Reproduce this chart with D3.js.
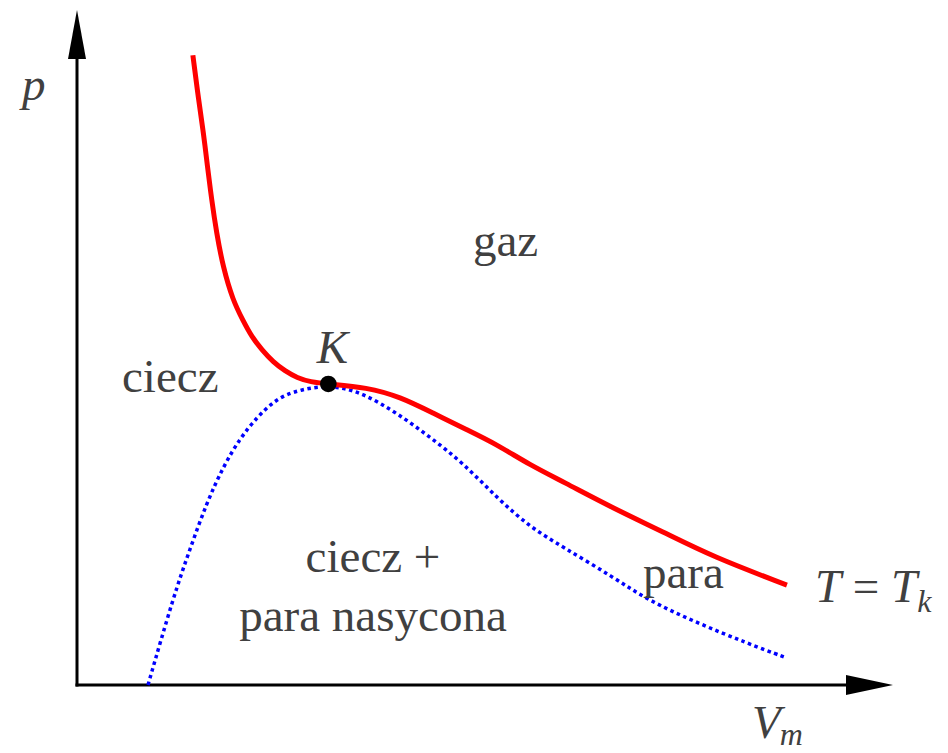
<!DOCTYPE html>
<html>
<head>
<meta charset="utf-8">
<script src="https://cdn.jsdelivr.net/npm/d3@7"></script>
<style>
  html, body { margin: 0; padding: 0; background: #fff; }
  svg { display: block; }
</style>
</head>
<body>
<script>
// Critical isotherm T = Tk: molar volume (arbitrary units) and pressure (arbitrary units)
const isothermV = [14.2, 14.9, 15.5, 16.0, 16.5, 17.1, 17.9, 19.1, 20.3, 21.4, 22.7, 24.0, 25.5, 27.0, 28.6, 30.8,
                   35.5, 39.6, 43.6, 47.8, 51.5, 55.5, 59.6, 65.7, 71.8, 77.9, 87.0];
const isothermP = [93.3, 86.7, 81.8, 76.7, 71.9, 67.0, 61.9, 57.0, 54.1, 51.6, 49.6, 47.9, 46.5, 45.5, 44.9, 44.6,
                   44.1, 42.7, 40.3, 37.8, 35.6, 32.6, 30.1, 26.2, 22.7, 19.0, 14.8];

// Saturation (coexistence) curve: liquid branch, critical point, vapour branch
const saturationV = [8.7, 11.8, 13.8, 15.9, 17.9, 20.0, 22.1, 24.0, 26.1, 30.8,
                     35.0, 39.2, 43.3, 47.3, 51.5, 55.5, 59.6, 65.7, 69.9, 76.0, 82.1, 87.0];
const saturationP = [0.0, 13.0, 20.0, 27.0, 32.3, 36.6, 39.7, 41.9, 43.4, 44.6,
                     43.3, 40.3, 36.7, 32.9, 27.7, 23.4, 20.4, 16.0, 12.6, 9.2, 6.2, 4.0];

// Critical point K
const criticalV = 30.8;
const criticalP = 44.6;

// Region labels
const regionLabels = ["gaz", "ciecz", "ciecz +", "para nasycona", "para"];

const W = 948, H = 753;
const originX = 77, originY = 685;
const serif = "'Liberation Serif', 'Times New Roman', Tinos, 'DejaVu Serif', serif";
const ink = "#404040";

const svg = d3.select("body").append("svg")
  .attr("width", W).attr("height", H)
  .attr("font-family", serif);

const x = d3.scaleLinear().domain([0, 100]).range([originX, 893]);
const y = d3.scaleLinear().domain([0, 100]).range([originY, 10]);

// Axes with arrowheads
const axes = svg.append("g");
axes.append("line")
  .attr("x1", originX).attr("y1", originY + 1.5)
  .attr("x2", originX).attr("y2", y(100) + 46)
  .attr("stroke", "#000").attr("stroke-width", 3);
axes.append("path")
  .attr("d", `M${originX},${y(100)} L${originX - 9},${y(100) + 49} L${originX + 9},${y(100) + 49} Z`)
  .attr("fill", "#000");
axes.append("line")
  .attr("x1", originX - 1.5).attr("y1", originY)
  .attr("x2", x(100) - 46).attr("y2", originY)
  .attr("stroke", "#000").attr("stroke-width", 3);
axes.append("path")
  .attr("d", `M${x(100)},${originY} L${x(100) - 47},${originY - 10} L${x(100) - 47},${originY + 10} Z`)
  .attr("fill", "#000");

const line = d3.line()
  .x(d => x(d[0])).y(d => y(d[1]))
  .curve(d3.curveBasis);

// Saturation curve (blue dotted)
svg.append("path")
  .datum(d3.zip(saturationV, saturationP))
  .attr("d", line)
  .attr("fill", "none")
  .attr("stroke", "#0000ff")
  .attr("stroke-width", 3.5)
  .attr("stroke-dasharray", "3.5,3.5");

// Critical isotherm (red)
svg.append("path")
  .datum(d3.zip(isothermV, isothermP))
  .attr("d", line)
  .attr("fill", "none")
  .attr("stroke", "#ff0000")
  .attr("stroke-width", 5);

// Critical point
svg.append("circle")
  .attr("cx", x(criticalV)).attr("cy", y(criticalP))
  .attr("r", 8.3).attr("fill", "#000");

svg.append("text")
  .attr("x", x(criticalV) + 4).attr("y", y(criticalP) - 21)
  .attr("text-anchor", "middle")
  .attr("fill", ink)
  .attr("font-size", 47).attr("font-style", "italic")
  .text("K");

// Axis titles
svg.append("text")
  .attr("x", 22).attr("y", 100)
  .attr("fill", ink)
  .attr("font-size", 47).attr("font-style", "italic")
  .text("p");

const vm = svg.append("text").attr("x", 752).attr("y", 738)
  .attr("fill", ink).attr("font-size", 47);
vm.append("tspan").attr("font-style", "italic").text("V");
vm.append("tspan").attr("font-style", "italic").attr("font-size", 32).attr("dy", 7).attr("dx", -1).text("m");

// Isotherm label next to its end
const lastV = isothermV[isothermV.length - 1], lastP = isothermP[isothermP.length - 1];
const tl = svg.append("text")
  .attr("x", x(lastV) + 28).attr("y", y(lastP) + 17)
  .attr("fill", ink)
  .attr("font-size", 47);
tl.append("tspan").attr("font-style", "italic").text("T");
tl.append("tspan").text(" = ");
tl.append("tspan").attr("font-style", "italic").text("T");
tl.append("tspan").attr("font-style", "italic").attr("font-size", 32).attr("dy", 10).text("k");

// Region labels
const fs = 47;
const lbl = (tx, ty, s, anchor) => svg.append("text")
  .attr("x", tx).attr("y", ty)
  .attr("text-anchor", anchor || "start")
  .attr("fill", ink).attr("font-size", fs).text(s);
lbl(473, 256, regionLabels[0]);
lbl(122, 392, regionLabels[1]);
lbl(373, 572, regionLabels[2], "middle");
lbl(373, 631, regionLabels[3], "middle");
lbl(643, 588, regionLabels[4]);
</script>
</body>
</html>
